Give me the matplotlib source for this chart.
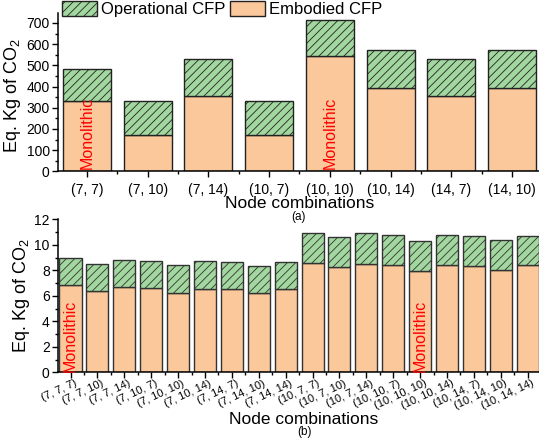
import matplotlib
matplotlib.use("Agg")
import matplotlib.pyplot as plt
import matplotlib.transforms as mtransforms
from matplotlib.ticker import MultipleLocator, FixedLocator
import numpy as np

plt.rcParams['font.family'] = ['Liberation Sans', 'DejaVu Sans']
plt.rcParams['mathtext.fontset'] = 'custom'
plt.rcParams['mathtext.rm'] = 'Liberation Sans'
plt.rcParams['mathtext.it'] = 'Liberation Sans'
plt.rcParams['hatch.linewidth'] = 0.6

# ---- data (a) ----
top_cats = ['(7, 7)', '(7, 10)', '(7, 14)', '(10, 7)', '(10, 10)', '(10, 14)', '(14, 7)', '(14, 10)']
top_embodied = [333, 171, 357, 171, 545, 391, 356, 391]
top_operational = [152, 163, 171, 163, 171, 182, 173, 182]
top_mono = [0, 4]

# ---- data (b) ----
bot_cats = ['(7, 7, 7)', '(7, 7, 10)', '(7, 7, 14)', '(7, 10, 7)', '(7, 10, 10)', '(7, 10, 14)',
            '(7, 14, 7)', '(7, 14, 10)', '(7, 14, 14)', '(10, 7, 7)', '(10, 7, 10)', '(10, 7, 14)',
            '(10, 10, 7)', '(10, 10, 10)', '(10, 10, 14)', '(10, 14, 7)', '(10, 14, 10)', '(10, 14, 14)']
bot_embodied = [6.85, 6.38, 6.67, 6.59, 6.25, 6.56, 6.53, 6.24, 6.51,
                8.55, 8.24, 8.52, 8.44, 7.95, 8.39, 8.36, 8.05, 8.39]
bot_operational = [2.14, 2.14, 2.16, 2.14, 2.14, 2.15, 2.14, 2.06, 2.14,
                   2.38, 2.35, 2.38, 2.35, 2.32, 2.38, 2.35, 2.33, 2.32]
bot_mono = [0, 13]

ORANGE = '#FAC89A'
GREEN = '#A2D89F'

W, H = 539, 442
fig = plt.figure(figsize=(W / 100, H / 100), dpi=100)

def px_axes(left, top, right, bottom):
    return fig.add_axes([left / W, 1 - bottom / H, (right - left) / W, (bottom - top) / H])

ax1 = px_axes(58, 13.4, 539, 171.3)
ax2 = px_axes(58, 219.3, 539, 372.3)

def style(ax):
    for s in ['top', 'right']:
        ax.spines[s].set_visible(False)
    for s in ['left', 'bottom']:
        ax.spines[s].set_linewidth(1.1)
    ax.tick_params(which='major', direction='out', length=4, width=1.0, labelsize=10, pad=2)
    ax.tick_params(which='minor', direction='out', length=2.5, width=1.0)
    ax.tick_params(axis='x', which='major', pad=4.5)

# ---- (a) ----
x1 = np.arange(len(top_cats))
b_emb = ax1.bar(x1, top_embodied, width=0.79, color=ORANGE, edgecolor='#222222', linewidth=1.0,
                label='Embodied CFP')
b_op = ax1.bar(x1, top_operational, bottom=top_embodied, width=0.79, color=GREEN,
               edgecolor='#222222', linewidth=1.0, hatch='////', label='Operational CFP')
style(ax1)
ax1.set_xlim(-0.478, 7.446)
ax1.set_ylim(0, 745)
ax1.set_xticks(x1)
ax1.set_xticklabels(top_cats)
ax1.xaxis.set_minor_locator(FixedLocator(np.arange(-0.5, len(top_cats), 1.0)))
ax1.yaxis.set_major_locator(MultipleLocator(100))
ax1.yaxis.set_minor_locator(MultipleLocator(50))
ax1.set_ylabel('Eq. Kg of CO$_2$', fontsize=13)
ax1.yaxis.set_label_coords(-0.073, 0.48)
ax1.set_xlabel('Node combinations', fontsize=12.5, va='top')
ax1.xaxis.set_label_coords(0.503, -0.158)
for i in top_mono:
    ax1.text(i, 12, 'Monolithic', rotation=90, color='red', fontsize=11.5,
             ha='center', va='bottom')

# ---- (b) ----
x2 = np.arange(len(bot_cats))
ax2.bar(x2, bot_embodied, width=0.82, color=ORANGE, edgecolor='#333333', linewidth=1.0)
ax2.bar(x2, bot_operational, bottom=bot_embodied, width=0.82, color=GREEN,
        edgecolor='#333333', linewidth=1.0, hatch='////')
style(ax2)
ax2.set_xlim(-0.465, 17.42)
ax2.set_ylim(0, 12)
ax2.set_xticks(x2)
ax2.tick_params(axis='x', which='major', labelbottom=False)
ax2.xaxis.set_minor_locator(FixedLocator(np.arange(-0.5, len(bot_cats), 1.0)))
ax2.yaxis.set_major_locator(MultipleLocator(2))
ax2.yaxis.set_minor_locator(MultipleLocator(1))
ax2.set_ylabel('Eq. Kg of CO$_2$', fontsize=13)
ax2.yaxis.set_label_coords(-0.054, 0.5)
ax2.set_xlabel('Node combinations', fontsize=12.5, va='top')
ax2.xaxis.set_label_coords(0.51, -0.2575)
off = mtransforms.ScaledTranslation(4 / 100, -6 / 100, fig.dpi_scale_trans)
for i, lab in zip(x2, bot_cats):
    ax2.text(i, 0, lab, rotation=25, rotation_mode='anchor', ha='right', va='top',
             fontsize=8, transform=ax2.get_xaxis_transform() + off, clip_on=False)
for i in bot_mono:
    ax2.text(i, 0.0, 'Monolithic', rotation=90, color='red', fontsize=11.5,
             ha='center', va='bottom')

fig.text(298 / W, 1 - 217 / H, '(a)', ha='center', va='center', fontsize=8.5)
fig.text(305 / W, 1 - 432 / H, '(b)', ha='center', va='center', fontsize=8.5)

fig.legend([b_op, b_emb], ['Operational CFP', 'Embodied CFP'], loc='upper left',
           bbox_to_anchor=(62 / W, 1 - 0.5 / H), ncol=2, frameon=False, fontsize=12,
           borderpad=0, borderaxespad=0, handlelength=2.1, handleheight=1.05,
           handletextpad=0.25, columnspacing=0.25)

fig.savefig('out.png', dpi=100)
